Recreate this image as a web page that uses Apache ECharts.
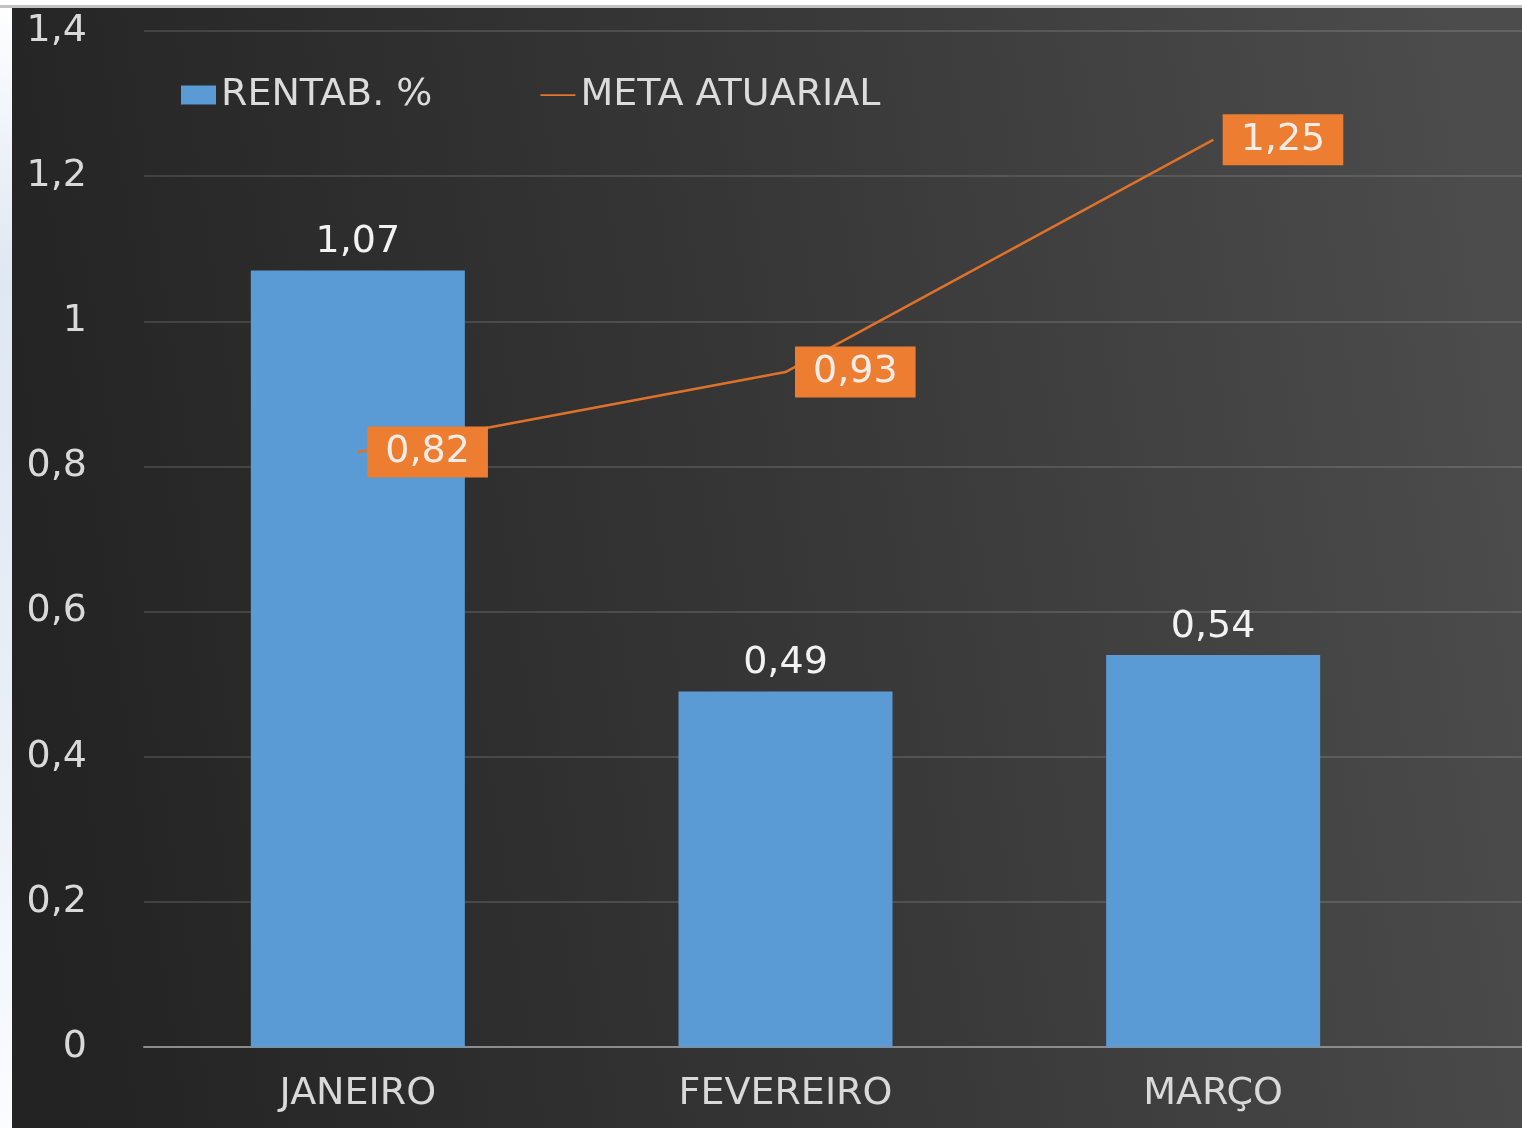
<!DOCTYPE html>
<html>
<head>
<meta charset="utf-8">
<script src="https://cdn.jsdelivr.net/npm/echarts@6/dist/echarts.min.js"></script>
<style>
html,body{margin:0;padding:0;width:1522px;height:1128px;overflow:hidden;}
body{background:linear-gradient(to bottom,#ffffff 0%,#dfe7f1 25%,#e8eef6 60%,#fbfcfe 100%);}
#topline{position:absolute;left:0;top:5px;width:1522px;height:3px;background:#c2c2c2;}
#chart{position:absolute;left:12px;top:8px;width:1510px;height:1120px;}
</style>
</head>
<body>
<div id="topline"></div>
<div id="chart"></div>
<script>
const categories = ['JANEIRO', 'FEVEREIRO', 'MARÇO'];
const rentab = [1.07, 0.49, 0.54];
const meta = [0.82, 0.93, 1.25];
const yTicks = { min: 0, max: 1.4, interval: 0.2 };

const fmt = v => String(+(+v).toFixed(2)).replace('.', ',');
const FONT = 'DejaVu Sans';
const FS = 38;
const chart = echarts.init(document.getElementById('chart'));
chart.setOption({
  animation: false,
  backgroundColor: {
    type: 'linear', x: 0, y: 0.6, x2: 1, y2: 0.4,
    colorStops: [
      { offset: 0, color: '#232323' },
      { offset: 0.5, color: '#363636' },
      { offset: 1, color: '#4c4c4c' }
    ]
  },
  textStyle: { fontFamily: FONT },
  legend: {
    left: 169, top: 68, padding: 0,
    itemWidth: 35, itemHeight: 19, itemGap: 108, itemTextGap: 6,
    textStyle: { color: '#dcdcdc', fontSize: FS, fontFamily: FONT },
    data: [
      { name: 'RENTAB. %', icon: 'rect' },
      { name: 'META ATUARIAL', icon: 'path://M0,0 L40,0 L40,2 L0,2 Z', itemStyle: { color: '#e3762c' } }
    ]
  },
  grid: [
    { left: 132, right: 95, top: 23, bottom: 81 },
    { left: 132, right: 0, top: 23, bottom: 81 }
  ],
  xAxis: [
    {
      type: 'category', gridIndex: 0, data: categories,
      axisLine: { show: false }, axisTick: { show: false },
      axisLabel: { color: '#d9d9d9', fontSize: FS, fontFamily: FONT, margin: 28 }
    },
    {
      type: 'category', gridIndex: 1, data: categories,
      axisLine: { show: true, lineStyle: { color: '#8c8c8c', width: 2 } },
      axisTick: { show: false }, axisLabel: { show: false }
    }
  ],
  yAxis: [
    {
      type: 'value', gridIndex: 0, min: yTicks.min, max: yTicks.max, interval: yTicks.interval,
      axisLine: { show: false }, axisTick: { show: false },
      splitLine: { show: false },
      axisLabel: { color: '#d9d9d9', fontSize: FS, fontFamily: FONT, margin: 57, formatter: fmt }
    },
    {
      type: 'value', gridIndex: 1, min: yTicks.min, max: yTicks.max, interval: yTicks.interval,
      axisLine: { show: false }, axisTick: { show: false }, axisLabel: { show: false },
      splitLine: { show: true, lineStyle: { color: 'rgba(255,255,255,0.13)', width: 2 } }
    }
  ],
  series: [
    {
      name: 'RENTAB. %', type: 'bar', xAxisIndex: 0, yAxisIndex: 0,
      data: rentab, barWidth: 214,
      itemStyle: { color: '#5b9bd5' },
      label: {
        show: true, position: 'top', distance: 9,
        color: '#f2f2f2', fontSize: FS, fontFamily: FONT, formatter: p => fmt(p.value)
      }
    },
    {
      name: 'META ATUARIAL', type: 'line', xAxisIndex: 0, yAxisIndex: 0,
      data: meta, symbol: 'circle', symbolSize: 1, showSymbol: true,
      lineStyle: { color: '#df722a', width: 2.5 },
      itemStyle: { color: '#df722a' },
      label: {
        show: true, position: 'right', distance: 9,
        color: '#f4ece6', fontSize: FS, fontFamily: FONT,
        backgroundColor: '#ed7d31', padding: [8, 18, 5, 18],
        formatter: p => fmt(p.value)
      }
    }
  ]
});
</script>
</body>
</html>
